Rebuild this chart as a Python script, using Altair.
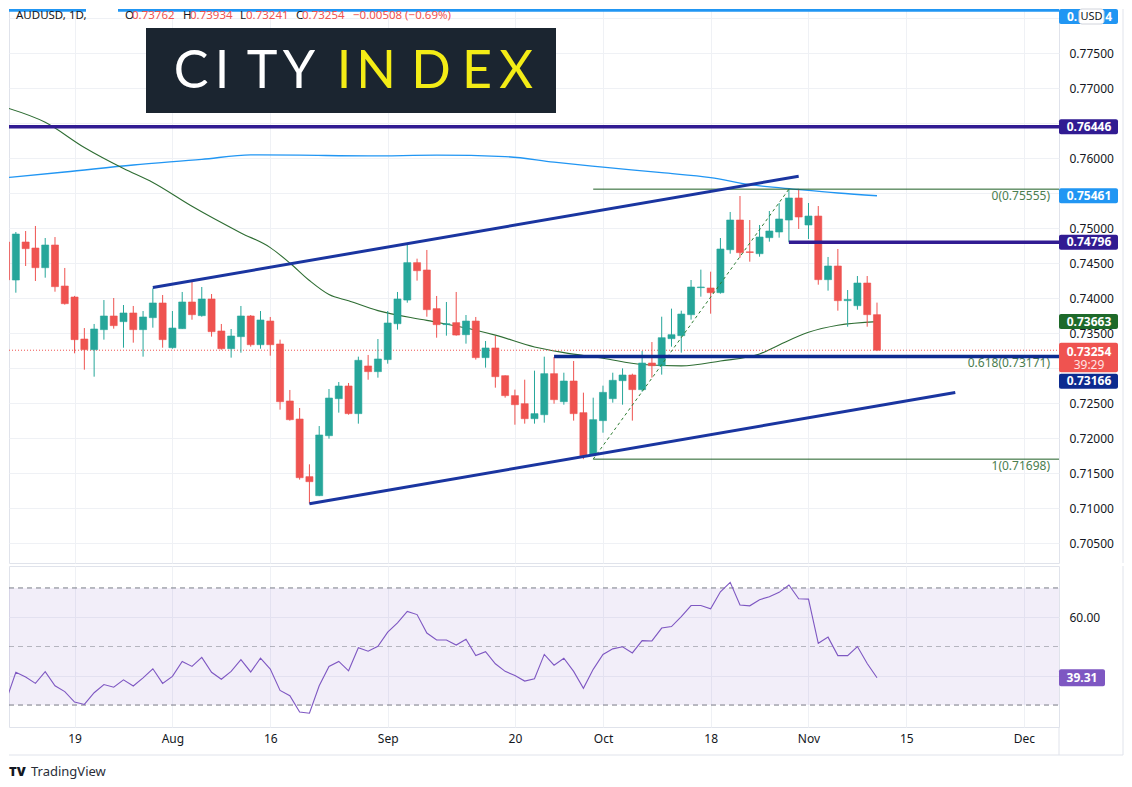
import altair as alt
import numpy as np
import pandas as pd

# ---------------- data ----------------
bar_index = list(range(-7, 83))  # trading-day index, 0 = Jul 19 2021, 82 = Nov 10 2021

opens = [
    0.74800, 0.74257, 0.74800, 0.74714, 0.74433, 0.74757, 0.74171,
    0.74014, 0.73414, 0.73262, 0.73548, 0.73743, 0.73662, 0.73786, 0.73548, 0.73719, 0.73929,
    0.73290, 0.73562, 0.73943, 0.73748, 0.73986, 0.73529, 0.73276, 0.73448, 0.73743, 0.73333,
    0.73671, 0.73343, 0.72529, 0.72271, 0.71448, 0.71176, 0.72033, 0.72562, 0.72743, 0.72348,
    0.73029, 0.72948, 0.73120, 0.73633, 0.73971, 0.74505, 0.74400, 0.73848, 0.73620, 0.73648,
    0.73476, 0.73671, 0.73148, 0.73286, 0.72890, 0.72605, 0.72490, 0.72276, 0.72333, 0.72919,
    0.72519, 0.72814, 0.72362, 0.71767, 0.72248, 0.72562, 0.72819, 0.72900, 0.72691, 0.73071,
    0.73033, 0.73419, 0.73462, 0.73762, 0.74148, 0.74143, 0.74076, 0.74690, 0.75114, 0.74660,
    0.74633, 0.74862, 0.74943, 0.75114, 0.75429, 0.75043, 0.75171, 0.74262, 0.74457, 0.73962,
    0.73890, 0.74214, 0.73762,
]
highs = [
    0.74850, 0.74943, 0.74957, 0.75029, 0.74857, 0.74871, 0.74429,
    0.74030, 0.73571, 0.73629, 0.73971, 0.74000, 0.73900, 0.73886, 0.73814, 0.74138, 0.74043,
    0.73814, 0.74086, 0.74243, 0.74157, 0.74057, 0.73629, 0.73557, 0.73886, 0.73757, 0.73814,
    0.73729, 0.73405, 0.72686, 0.72429, 0.71624, 0.72171, 0.72700, 0.72800, 0.72786, 0.73162,
    0.73186, 0.73414, 0.73814, 0.74086, 0.74757, 0.74562, 0.74686, 0.74029, 0.73943, 0.74086,
    0.73757, 0.73729, 0.73386, 0.73457, 0.72895, 0.72691, 0.72833, 0.72962, 0.73162, 0.73157,
    0.72933, 0.73100, 0.72648, 0.72576, 0.72748, 0.72933, 0.72995, 0.72919, 0.73243, 0.73371,
    0.73733, 0.73848, 0.73819, 0.74257, 0.74405, 0.74376, 0.74857, 0.75229, 0.75457, 0.75114,
    0.75043, 0.75243, 0.75357, 0.75555, 0.75550, 0.75357, 0.75314, 0.74586, 0.74700, 0.74114,
    0.74314, 0.74314, 0.73934,
]
lows = [
    0.74200, 0.74076, 0.74457, 0.74243, 0.74290, 0.74090, 0.73905,
    0.73210, 0.72976, 0.72876, 0.73405, 0.73562, 0.73290, 0.73362, 0.73162, 0.73576, 0.73290,
    0.73276, 0.73560, 0.73690, 0.73733, 0.73448, 0.73262, 0.73148, 0.73219, 0.73305, 0.73276,
    0.73176, 0.72405, 0.72248, 0.71405, 0.71062, 0.71170, 0.71990, 0.72362, 0.72333, 0.72205,
    0.72833, 0.72862, 0.73062, 0.73548, 0.73933, 0.74248, 0.73733, 0.73433, 0.73462, 0.73462,
    0.73348, 0.73120, 0.73005, 0.72719, 0.72576, 0.72190, 0.72205, 0.72205, 0.72219, 0.72490,
    0.72476, 0.72248, 0.71698, 0.71767, 0.72076, 0.72505, 0.72476, 0.72248, 0.72662, 0.72862,
    0.72905, 0.73305, 0.73219, 0.73691, 0.74019, 0.73776, 0.74062, 0.74633, 0.74576, 0.74519,
    0.74590, 0.74805, 0.74862, 0.74796, 0.74986, 0.74843, 0.74190, 0.74105, 0.73819, 0.73590,
    0.73833, 0.73590, 0.73241,
]
closes = [
    0.74260, 0.74914, 0.74705, 0.74433, 0.74757, 0.74162, 0.73919,
    0.73405, 0.73262, 0.73557, 0.73743, 0.73605, 0.73786, 0.73548, 0.73729, 0.73929, 0.73405,
    0.73571, 0.73943, 0.73762, 0.73986, 0.73519, 0.73276, 0.73457, 0.73743, 0.73333, 0.73686,
    0.73333, 0.72519, 0.72262, 0.71433, 0.71376, 0.72043, 0.72571, 0.72743, 0.72348, 0.73110,
    0.72948, 0.73129, 0.73643, 0.73986, 0.74505, 0.74390, 0.73833, 0.73619, 0.73633, 0.73471,
    0.73671, 0.73148, 0.73286, 0.72876, 0.72605, 0.72476, 0.72276, 0.72348, 0.72919, 0.72548,
    0.72814, 0.72348, 0.71738, 0.72262, 0.72652, 0.72824, 0.72900, 0.72691, 0.73071, 0.73033,
    0.73433, 0.73476, 0.73771, 0.74157, 0.74157, 0.74076, 0.74700, 0.75114, 0.74648, 0.74650,
    0.74871, 0.74957, 0.75129, 0.75429, 0.75157, 0.75171, 0.74262, 0.74457, 0.73962, 0.73980,
    0.74214, 0.73762, 0.73254,
]
rsi_values = [
    31.5, 41.2, 39.6, 37.4, 41.4, 36.6, 34.6,
    31.0, 30.2, 34.2, 37.0, 36.1, 38.6, 36.5, 39.3, 42.4, 37.4,
    39.8, 44.9, 43.2, 46.3, 41.2, 38.8, 41.5, 45.5, 41.3, 46.0,
    42.3, 35.0, 33.2, 27.6, 27.2, 36.6, 43.2, 44.9, 41.7, 49.6,
    48.4, 50.1, 54.9, 58.1, 62.0, 60.9, 54.6, 52.2, 52.2, 50.5,
    52.5, 46.9, 48.2, 44.1, 41.5, 40.1, 38.2, 39.0, 47.3, 43.6,
    46.0, 41.5, 35.7, 42.2, 47.3, 49.2, 49.9, 47.8, 52.0, 51.9,
    56.3, 56.8, 60.2, 64.0, 64.0, 62.9, 68.7, 71.9, 64.2, 63.9,
    66.0, 67.0, 68.5, 71.0, 66.3, 66.2, 51.1, 53.2, 46.9, 46.9,
    50.0, 44.2, 39.31,
]

# moving averages (vertices)
ma_fast_idx = [-7, -3, 1, 5, 8, 12, 17, 20, 22, 24, 26, 28, 31, 36, 41, 43, 47, 50, 54, 58, 62, 66, 70, 72, 75, 78, 82]
ma_fast_val = [0.7672, 0.7651, 0.7615, 0.7585, 0.7565, 0.7531, 0.7493, 0.7472, 0.7450, 0.7425, 0.7405, 0.7396,
               0.7382, 0.7368, 0.7354, 0.7347, 0.7330, 0.7322, 0.7314, 0.7305, 0.7303, 0.7310, 0.7320, 0.7333,
               0.7351, 0.7361, 0.73663]
ma_slow_idx = [-7, -1, 6, 13, 18, 23, 30, 37, 44, 49, 54, 60, 65, 69, 74, 78, 82]
ma_slow_val = [0.7572, 0.7580, 0.7590, 0.7598, 0.76045, 0.7604, 0.7603, 0.7604, 0.7602, 0.7594, 0.7587,
               0.7579, 0.7572, 0.7562, 0.7555, 0.7550, 0.75461]

# x-axis ticks (trading-day index) and labels
date_tick_idx = [0, 10, 20, 32, 45, 54, 65, 75, 85, 97]
date_tick_lab = ["19", "Aug", "16", "Sep", "20", "Oct", "18", "Nov", "15", "Dec"]
price_ticks = [0.705, 0.710, 0.715, 0.720, 0.725, 0.730, 0.735, 0.740, 0.745, 0.750,
               0.755, 0.760, 0.765, 0.770, 0.775, 0.780]
rsi_ticks = [40, 60]
rsi_levels = [70, 50, 30]

# drawings
upper_tl_idx = [8, 74]
upper_tl_val = [0.7415, 0.7574]
lower_tl_idx = [24, 90]
lower_tl_val = [0.7106, 0.7265]
fib_start_idx = 53
fib_high_idx = 73
fib_ratio = [0, 0.618, 1]
fib_price = [0.75555, 0.73171, 0.71698]
hline_price = [0.78114, 0.76446, 0.74796, 0.73166]
hline_start = [None, None, 73, 49]  # None = whole width
hline_color = ["#2196f3", "#311b92", "#311b92", "#0d2b8f"]
ma_fast_last = 0.73663
ma_slow_last = 0.75461
countdown = "39:29"

# ---------------- layout constants ----------------
W = 1050
H_MAIN = 554
H_RSI = 161
PPU = 7000.0
P_TOP = 0.781286
P_BOT = P_TOP - H_MAIN / PPU
X_DOMAIN = [-6.7, 100.6]
RSI_DOMAIN = [22.5, 77.5]
RSI_PPU = H_RSI / (RSI_DOMAIN[1] - RSI_DOMAIN[0])

UP, DOWN = "#26a69a", "#ef5350"
GRID = "#eff1f5"
FRAME = "#e0e3eb"
TXT = "#131722"
FONT = "Noto Sans"
RSI_COL = "#7e57c2"

# ---------------- right-side price labels (TradingView-like stacking) ----------------
lab_price = [hline_price[0], hline_price[1], ma_slow_last, hline_price[2], ma_fast_last, closes[-1],
             hline_price[3]]
lab_color = ["#2196f3", "#311b92", "#2196f3", "#311b92", "#1e6a2a", DOWN, "#0d2b8f"]
lab_sub = ["", "", "", "", "", countdown, ""]
rows = []
floor = 0.0
for p, col, sub in sorted(zip(lab_price, lab_color, lab_sub), key=lambda t: -t[0]):
    c = (P_TOP - p) * PPU
    up, down = 7.5, (22.0 if sub else 7.5)
    if c - up < floor:
        c = floor + up
    top, bot = c - up, c + down
    floor = bot + 1.5
    rows.append({"ptop": P_TOP - top / PPU, "pbot": P_TOP - bot / PPU,
                 "pc": P_TOP - (c + (1.5 if sub else 0)) / PPU,
                 "ps": P_TOP - (c + 15) / PPU,
                 "top": top, "bot": bot,
                 "text": f"{p:.5f}", "sub": sub, "col": col})
lb = pd.DataFrame(rows)

# axis labels that sit under a price label box are not shown (as in TradingView)
hidden_ticks = [t for t in price_ticks
                if any(r["top"] <= (P_TOP - t) * PPU <= r["bot"] for r in rows)]
hide_cond = " || ".join(f"abs(datum.value - {t}) < 1e-6" for t in hidden_ticks) or "false"
price_label_expr = f"({hide_cond}) ? '' : format(datum.value, '.5f')"

rsi_last = rsi_values[-1]
rsi_box_half = 8.5 / RSI_PPU
rsi_hidden = [t for t in rsi_ticks if abs(t - rsi_last) <= rsi_box_half + 1.5]
rsi_hide = " || ".join(f"datum.value == {t}" for t in rsi_hidden) or "false"
rsi_label_expr = f"({rsi_hide}) ? '' : format(datum.value, '.2f')"

xs = alt.Scale(domain=X_DOMAIN, nice=False, zero=False)
ys = alt.Scale(domain=[P_BOT, P_TOP], nice=False, zero=False)
rs = alt.Scale(domain=RSI_DOMAIN, nice=False, zero=False)

x_axis_main = alt.Axis(values=date_tick_idx, labels=False, ticks=False, domain=False, grid=True,
                       gridColor=GRID, title=None, zindex=0)
y_axis_main = alt.Axis(orient="right", values=price_ticks, labelExpr=price_label_expr, labelPadding=10,
                       ticks=False, domain=False, grid=True, gridColor=GRID, title=None, labelFont=FONT,
                       labelFontSize=12, labelColor=TXT, zindex=0)

lab_expr = ("[" + ",".join(f"'{s}'" for s in date_tick_lab) + "][indexof(["
            + ",".join(str(v) for v in date_tick_idx) + "], datum.value)]")
x_axis_rsi = alt.Axis(values=date_tick_idx, labelExpr=lab_expr, ticks=False, domain=False, grid=True,
                      gridColor=GRID, title=None, labelFont=FONT, labelFontSize=12, labelColor=TXT,
                      labelPadding=6, zindex=0)
y_axis_rsi = alt.Axis(orient="right", values=rsi_ticks, labelExpr=rsi_label_expr, labelPadding=10,
                      ticks=False, domain=False, grid=True, gridColor=GRID, title=None, labelFont=FONT,
                      labelFontSize=12, labelColor=TXT, zindex=0)


def X(f):
    return alt.X(f, type="quantitative", scale=xs, axis=x_axis_main)


def Y(f):
    return alt.Y(f, type="quantitative", scale=ys, axis=y_axis_main)


def RX(f):
    return alt.X(f, type="quantitative", scale=xs, axis=x_axis_rsi)


def RY(f):
    return alt.Y(f, type="quantitative", scale=rs, axis=y_axis_rsi)


ONE = alt.Data(values=[{}])


def tlayer(text, x, y, color, size=12, weight="normal", align="left", baseline="middle", font=FONT):
    return alt.Chart(ONE).mark_text(text=text, align=align, baseline=baseline, fontSize=size,
                                    fontWeight=weight, font=font, color=color).encode(
        x=alt.value(x), y=alt.value(y))


def rlayer(x, x2, y, y2, color, radius=0, stroke=None):
    kw = dict(color=color, cornerRadius=radius)
    if stroke:
        kw.update(stroke=stroke, strokeWidth=1)
    return alt.Chart(ONE).mark_rect(**kw).encode(
        x=alt.value(x), x2=alt.value(x2), y=alt.value(y), y2=alt.value(y2))


def vline(x, y, y2, color=FRAME):
    return alt.Chart(ONE).mark_rule(color=color, strokeWidth=1).encode(
        x=alt.value(x), y=alt.value(y), y2=alt.value(y2))


# ---------------- main panel ----------------
cd = pd.DataFrame({"i": bar_index, "o": opens, "h": highs, "l": lows, "c": closes})
cd["col"] = np.where(cd.c >= cd.o, UP, DOWN)
cd["xl"] = cd.i - 0.36
cd["xr"] = cd.i + 0.36

layers = []

ms = pd.DataFrame({"i": ma_slow_idx, "v": ma_slow_val})
layers.append(alt.Chart(ms).mark_line(color="#2196f3", strokeWidth=1.3, clip=True, interpolate="monotone")
              .encode(x=X("i"), y=Y("v")))
mf = pd.DataFrame({"i": ma_fast_idx, "v": ma_fast_val})
layers.append(alt.Chart(mf).mark_line(color="#2e6d33", strokeWidth=1.1, clip=True, interpolate="monotone")
              .encode(x=X("i"), y=Y("v")))

layers.append(alt.Chart(pd.DataFrame({"p": [closes[-1]]})).mark_rule(color=DOWN, strokeDash=[1, 2],
                                                                   strokeWidth=1)
              .encode(y=Y("p"), x=alt.value(0), x2=alt.value(W)))

layers.append(alt.Chart(cd).mark_rule(strokeWidth=1, clip=True)
              .encode(x=X("i"), y=Y("l"), y2=alt.Y2("h"), color=alt.Color("col:N", scale=None)))
layers.append(alt.Chart(cd).mark_rect(clip=True, strokeWidth=0.6)
              .encode(x=X("xl"), x2=alt.X2("xr"), y=Y("o"), y2=alt.Y2("c"),
                      color=alt.Color("col:N", scale=None), stroke=alt.Stroke("col:N", scale=None)))

fib = pd.DataFrame({"p": fib_price,
                    "lab": [f"{r:g}({p:.5f})" for r, p in zip(fib_ratio, fib_price)],
                    "s": [fib_start_idx] * len(fib_price)})
layers.append(alt.Chart(fib).mark_rule(color="#1e5e24", strokeWidth=1, clip=True)
              .encode(x=X("s"), x2=alt.value(W), y=Y("p")))
fd = pd.DataFrame({"i": [fib_start_idx, fib_high_idx], "v": [fib_price[-1], fib_price[0]]})
layers.append(alt.Chart(fd).mark_line(color="#2e7d32", strokeWidth=1, strokeDash=[3, 3])
              .encode(x=X("i"), y=Y("v")))
layers.append(alt.Chart(fib).mark_text(align="right", baseline="middle", dy=7, fontSize=12, font=FONT,
                                       color="#4a7d4f")
              .encode(x=alt.value(W - 9), y=Y("p"), text="lab:N"))

tl = pd.DataFrame({"line": ["u", "u", "l", "l"],
                   "i": upper_tl_idx + lower_tl_idx,
                   "v": upper_tl_val + lower_tl_val})
layers.append(alt.Chart(tl).mark_line(color="#1a35a0", strokeWidth=3, clip=True)
              .encode(x=X("i"), y=Y("v"), detail="line:N"))

hl = pd.DataFrame({"p": hline_price,
                   "s": [X_DOMAIN[0] if s is None else s for s in hline_start],
                   "col": hline_color})
layers.append(alt.Chart(hl).mark_rule(strokeWidth=3.5, clip=True)
              .encode(x=X("s"), x2=alt.value(W), y=Y("p"), color=alt.Color("col:N", scale=None)))

layers.append(alt.Chart(lb).mark_rect(cornerRadius=2)
              .encode(y=Y("ptop"), y2=alt.Y2("pbot"), x=alt.value(W), x2=alt.value(W + 59),
                      color=alt.Color("col:N", scale=None)))
# the top label is mostly covered by the "USD" badge: only its ends show
lb_top = lb.iloc[[0]].copy()
lb_top["left"] = lb_top["text"].str[:2]
lb_top["right"] = lb_top["text"].str[-1:]
lb_rest = lb.iloc[1:]
layers.append(alt.Chart(lb_rest).mark_text(color="white", fontWeight="bold", fontSize=12, font=FONT)
              .encode(x=alt.value(W + 30), y=Y("pc"), text="text:N"))
layers.append(alt.Chart(lb_top).mark_text(color="white", fontWeight="bold", fontSize=12, font=FONT,
                                          align="left")
              .encode(x=alt.value(W + 8), y=Y("pc"), text="left:N"))
layers.append(alt.Chart(lb_top).mark_text(color="white", fontWeight="bold", fontSize=12, font=FONT,
                                          align="right")
              .encode(x=alt.value(W + 53), y=Y("pc"), text="right:N"))
layers.append(alt.Chart(lb[lb["sub"] != ""]).mark_text(color="#ffe3e3", fontSize=12, font=FONT)
              .encode(x=alt.value(W + 30), y=Y("ps"), text="sub:N"))

# USD badge
layers.append(rlayer(W + 20, W + 45, 0, 15, "white", radius=3, stroke="#d1d4dc"))
layers.append(tlayer("USD", W + 32.5, 7.5, TXT, size=11, align="center"))

# header legend
chg = closes[-1] - closes[-2]
pct = chg / closes[-2] * 100
layers.append(rlayer(77, 109, 0, 4, "white"))
head = [("AUDUSD, 1D,", 7, TXT), ("O", 116, TXT), (f"{opens[-1]:.5f}", 123, DOWN),
        ("H", 174, TXT), (f"{highs[-1]:.5f}", 181, DOWN), ("L", 231, TXT), (f"{lows[-1]:.5f}", 237, DOWN),
        ("C", 287, TXT), (f"{closes[-1]:.5f}", 293, DOWN),
        (f"{chg:.5f} ({pct:.2f}%)".replace("-", "\u2212"), 344, DOWN)]
for t, x, col in head:
    layers.append(tlayer(t, x, 10, col, size=11.5, baseline="alphabetic"))

# CITY INDEX logo
layers.append(rlayer(137, 547, 19, 104, "#1b2530"))
for ch, x, col in [("C", 182, "white"), ("I", 213, "white"), ("T", 253, "white"), ("Y", 290, "white"),
                   ("I", 335, "#f3ec16"), ("N", 367, "#f3ec16"), ("D", 422, "#f3ec16"),
                   ("E", 468, "#f3ec16"), ("X", 507, "#f3ec16")]:
    layers.append(tlayer(ch, x, 79, col, size=52, weight="normal", align="center", baseline="alphabetic",
                         font="Lato"))

layers.append(vline(1114, 0, H_MAIN))

main = alt.layer(*layers).properties(width=W, height=H_MAIN)

# ---------------- RSI panel ----------------
rd = pd.DataFrame({"i": bar_index, "v": rsi_values})
rl = []
rl.append(alt.Chart(pd.DataFrame({"lo": [min(rsi_levels)], "hi": [max(rsi_levels)]}))
          .mark_rect(color=RSI_COL, opacity=0.1)
          .encode(y=RY("lo"), y2=alt.Y2("hi"), x=alt.value(0), x2=alt.value(W)))
lv = pd.DataFrame({"v": rsi_levels, "op": [1.0, 0.5, 1.0]})
rl.append(alt.Chart(lv).mark_rule(color="#787b86", strokeDash=[5, 4], strokeWidth=1)
          .encode(y=RY("v"), x=alt.value(0), x2=alt.value(W), opacity=alt.Opacity("op:Q", scale=None)))
rl.append(alt.Chart(rd).mark_line(color=RSI_COL, strokeWidth=1.1, clip=True).encode(x=RX("i"), y=RY("v")))
rb = pd.DataFrame({"lo": [rsi_last - rsi_box_half], "hi": [rsi_last + rsi_box_half], "v": [rsi_last],
                   "t": [f"{rsi_last:.2f}"]})
rl.append(alt.Chart(rb).mark_rect(color=RSI_COL, cornerRadius=2)
          .encode(y=RY("lo"), y2=alt.Y2("hi"), x=alt.value(W), x2=alt.value(W + 46)))
rl.append(alt.Chart(rb).mark_text(color="white", fontWeight="bold", fontSize=12, font=FONT)
          .encode(y=RY("v"), x=alt.value(W + 23), text="t:N"))
# frame / footer
rl.append(alt.Chart(ONE).mark_rule(color=FRAME, strokeWidth=1)
          .encode(x=alt.value(0), x2=alt.value(1114), y=alt.value(189)))
rl.append(vline(W, H_RSI, 189))
rl.append(vline(1114, 0, 189))
rl.append(tlayer("TV", 0, 206, TXT, size=13, weight=900))
rl.append(tlayer("TradingView", 22, 206, "#2a2e39", size=13))

rsi_panel = alt.layer(*rl).properties(width=W, height=H_RSI)

chart = (alt.vconcat(main, rsi_panel, spacing=1)
         .resolve_scale(x="independent", y="independent")
         .properties(padding={"left": 0, "top": 0, "right": 0, "bottom": 0})
         .configure_view(stroke=FRAME, strokeWidth=1))

chart.save("out.html", embed_options={"renderer": "svg", "actions": False})
